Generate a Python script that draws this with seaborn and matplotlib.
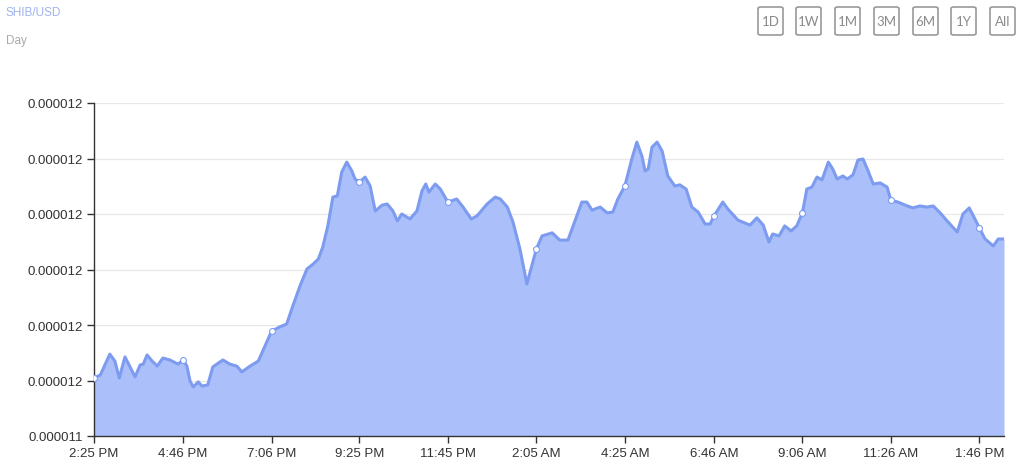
import numpy as np
import pandas as pd
import matplotlib
matplotlib.use('Agg')
import matplotlib.pyplot as plt
from matplotlib.patches import FancyBboxPatch
import seaborn as sns

# minutes after 2:25 PM, price in units of 1e-6 USD
minutes = [0, 10, 25, 33, 40, 49, 57, 65, 73, 78, 84, 92, 100, 109, 120, 133, 141, 147,
           152, 157, 165, 171, 180, 188, 204, 215, 226, 234, 247, 260, 267, 281, 294, 305,
           313, 326, 337, 347, 355, 362, 370, 378, 385, 392, 400, 408, 413, 420, 429, 437,
           445, 456, 464, 473, 480, 487, 500, 511, 519, 525, 530, 540, 548, 560, 574, 584,
           597, 606, 622, 635, 643, 654, 663, 674, 685, 695, 700, 709, 725, 737, 750, 764,
           772, 780, 788, 801, 812, 821, 829, 840, 851, 859, 867, 872, 877, 883, 891, 899,
           908, 919, 927, 937, 946, 956, 967, 975, 981, 995, 1003, 1019, 1038, 1049, 1059,
           1068, 1074, 1084, 1093, 1103, 1112, 1121, 1128, 1136, 1144, 1152, 1162, 1169,
           1176, 1185, 1192, 1201, 1209, 1217, 1225, 1233, 1244, 1255, 1261, 1272, 1287,
           1296, 1307, 1318, 1328, 1339, 1350, 1366, 1375, 1385, 1394, 1401, 1410, 1423,
           1431, 1440]
price = [11.5109, 11.5120, 11.5195, 11.5170, 11.5109, 11.5185, 11.5149, 11.5113, 11.5156,
         11.5159, 11.5192, 11.5170, 11.5152, 11.5181, 11.5174, 11.5159, 11.5174, 11.5152,
         11.5098, 11.5077, 11.5095, 11.5080, 11.5084, 11.5149, 11.5174, 11.5159, 11.5152,
         11.5131, 11.5152, 11.5170, 11.5206, 11.5278, 11.5293, 11.5304, 11.5358, 11.5441,
         11.5502, 11.5520, 11.5538, 11.5581, 11.5657, 11.5761, 11.5765, 11.5851, 11.5887,
         11.5855, 11.5826, 11.5815, 11.5833, 11.5801, 11.5711, 11.5732, 11.5736, 11.5711,
         11.5675, 11.5700, 11.5682, 11.5711, 11.5783, 11.5808, 11.5779, 11.5808, 11.5790,
         11.5743, 11.5754, 11.5725, 11.5682, 11.5693, 11.5736, 11.5761, 11.5754, 11.5725,
         11.5671, 11.5574, 11.5448, 11.5531, 11.5574, 11.5621, 11.5632, 11.5606, 11.5606,
         11.5693, 11.5743, 11.5743, 11.5714, 11.5725, 11.5704, 11.5707, 11.5754, 11.5801,
         11.5898, 11.5959, 11.5909, 11.5855, 11.5862, 11.5941, 11.5959, 11.5927, 11.5837,
         11.5801, 11.5805, 11.5790, 11.5725, 11.5707, 11.5664, 11.5664, 11.5693, 11.5743,
         11.5718, 11.5678, 11.5660, 11.5686, 11.5660, 11.5599, 11.5628, 11.5621, 11.5657,
         11.5639, 11.5657, 11.5704, 11.5790, 11.5797, 11.5833, 11.5823, 11.5887, 11.5862,
         11.5826, 11.5837, 11.5826, 11.5841, 11.5895, 11.5898, 11.5855, 11.5808, 11.5812,
         11.5797, 11.5750, 11.5743, 11.5729, 11.5722, 11.5729, 11.5725, 11.5729, 11.5704,
         11.5675, 11.5635, 11.5700, 11.5722, 11.5682, 11.5650, 11.5610, 11.5585, 11.5610,
         11.5610]

tick_labels = ['2:25 PM', '4:46 PM', '7:06 PM', '9:25 PM', '11:45 PM', '2:05 AM',
               '4:25 AM', '6:46 AM', '9:06 AM', '11:26 AM', '1:46 PM']
y_ticks = [11.49, 11.51, 11.53, 11.55, 11.57, 11.59, 11.61]
ranges = ['1D', '1W', '1M', '3M', '6M', '1Y', 'All']

start = pd.Timestamp('2021-01-01 14:25')
df = pd.DataFrame({'time': start + pd.to_timedelta(minutes, unit='m'),
                   'price': np.array(price) * 1e-6})

# tick times from the clock labels, wrapping past midnight
tick_times = []
day = pd.Timestamp('2021-01-01')
prev = None
for lab in tick_labels:
    t = pd.to_datetime(day.strftime('%Y-%m-%d') + ' ' + lab, format='%Y-%m-%d %I:%M %p')
    if prev is not None and t < prev:
        day = day + pd.Timedelta(days=1)
        t = t + pd.Timedelta(days=1)
    tick_times.append(t)
    prev = t

line_col = '#7d9cf0'
fill_col = '#abc0fa'

sns.set_style('white')
plt.rcParams['font.family'] = ['Liberation Sans', 'DejaVu Sans']

fig = plt.figure(figsize=(10.24, 4.77), dpi=100)
ax = fig.add_axes([94/1024, 1 - 437/477, 910/1024, 333/477])

ymin = y_ticks[0] * 1e-6
ax.fill_between(df['time'], df['price'], ymin, color=fill_col, lw=0, zorder=2)
sns.lineplot(data=df, x='time', y='price', color=line_col, linewidth=2.2, ax=ax, zorder=3,
             solid_joinstyle='round', solid_capstyle='round')

marks = df[df['time'].isin(tick_times)]
ax.scatter(marks['time'], marks['price'], s=18, facecolor='white', edgecolor=line_col,
           linewidth=0.8, zorder=4)

ax.set_xlim(df['time'].iloc[0], df['time'].iloc[-1])
ax.set_ylim(ymin, y_ticks[-1] * 1e-6)
ax.set_xticks(tick_times)
ax.set_xticklabels(tick_labels)
ax.set_yticks([v * 1e-6 for v in y_ticks])
ax.set_yticklabels(['{:.6f}'.format(v * 1e-6) for v in y_ticks])
ax.set_xlabel('')
ax.set_ylabel('')

ax.grid(axis='y', color='#e8e8e8', linewidth=0.9, zorder=0)
ax.set_axisbelow(True)
for s in ['top', 'right']:
    ax.spines[s].set_visible(False)
for s in ['left', 'bottom']:
    ax.spines[s].set_color('#333333')
    ax.spines[s].set_linewidth(1)
ax.tick_params(axis='both', direction='out', length=5, width=1, color='#333333',
               labelsize=9.5, labelcolor='#333333', pad=3, left=True, bottom=True)

fig.text(6/1024, 1 - 13/477, 'SHIB/USD', color='#9fb3ee', fontsize=8.5, va='center')
fig.text(6/1024, 1 - 41/477, 'Day', color='#aaaaaa', fontsize=8.5, va='center')

bx = [758, 796, 835, 874, 913, 951, 990]
for x0, lab in zip(bx, ranges):
    box = FancyBboxPatch((x0/1024, 1 - 36/477), 25/1024, 28/477,
                         boxstyle='round,pad=0,rounding_size=0.003',
                         transform=fig.transFigure, fill=False, edgecolor='#999999',
                         linewidth=1.2)
    fig.patches.append(box)
    fig.text((x0 + 12.5)/1024, 1 - 22/477, lab, color='#8a8a8a', fontsize=9.5,
             ha='center', va='center', family=['Lato', 'DejaVu Sans'])

fig.savefig('out.png', dpi=100)
